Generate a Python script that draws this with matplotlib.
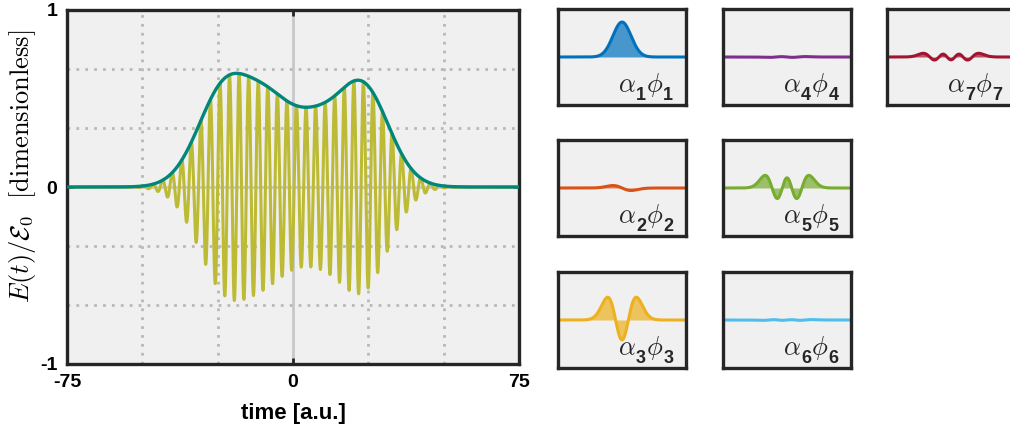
import numpy as np
import matplotlib
matplotlib.use("Agg")
import matplotlib.pyplot as plt
from math import factorial, pi, sqrt

plt.rcParams['font.family'] = ['Liberation Sans', 'DejaVu Sans']
plt.rcParams['mathtext.fontset'] = 'cm'

# Hermite-Gauss coefficients alpha_1..alpha_7
alpha = [0.97, -0.08, 0.78, 0.015, 0.46, 0.015, 0.14]
mode_labels = ['1', '2', '3', '4', '5', '6', '7']
colors = ['#0072BD', '#D95319', '#EDB120', '#7E2F8E', '#77AC30', '#4DBEEE', '#A2142F']

sigma = 10.6      # width of the basis functions [a.u.]
omega = 1.98      # carrier frequency
t_trough = -0.43  # position of the central carrier trough

x_ticks = [-75, 0, 75]
y_ticks = [-1, 0, 1]


def hg(n, x):
    """Normalised Hermite-Gauss function of order n."""
    h = np.polynomial.hermite.hermval(x, [0] * n + [1])
    return h * np.exp(-x ** 2 / 2) / sqrt(2 ** n * factorial(n) * sqrt(pi))


t = np.linspace(-75, 75, 4000)
modes = [a * hg(n, t / sigma) for n, a in enumerate(alpha)]
env = np.sum(modes, axis=0)
field = -env * np.cos(omega * (t - t_trough))

fig = plt.figure(figsize=(10.1, 4.3), dpi=100)
W, H = 1010, 430

ax = fig.add_axes([67 / W, 1 - 364 / H, 452 / W, 354 / H])
ax.set_facecolor('#f0f0f0')
ax.set_xlim(-75, 75)
ax.set_ylim(-1, 1)
ax.set_xticks(x_ticks)
ax.set_yticks(y_ticks)
ax.set_xticks([-50, -25, 25, 50], minor=True)
ax.set_yticks([-2 / 3, -1 / 3, 1 / 3, 2 / 3], minor=True)
ax.grid(which='minor', color='#b9b9b9', linestyle=(0, (1, 2.2)), linewidth=2)
ax.tick_params(which='minor', length=0)
ax.tick_params(which='major', direction='in', length=4, width=2, color='#262626',
               labelsize=14, pad=7, top=True, right=True)
ax.set_xticklabels([str(v) for v in x_ticks], fontweight='bold')
ax.set_yticklabels([str(v) for v in y_ticks], fontweight='bold')
for s in ax.spines.values():
    s.set_linewidth(2.4)
    s.set_color('#262626')
ax.axvline(0, color='#c8c8c8', linewidth=2, zorder=1.5)
ax.axhline(0, color='#c8c8c8', linewidth=2, zorder=1.5)
ax.plot(t, field, color='#bdbb36', linewidth=2.2, zorder=2)
ax.plot(t, env, color='#00877a', linewidth=2.4, zorder=3)

fig.text(293 / W, 1 - 413 / H, 'time [a.u.]', fontsize=16, fontweight='bold',
         ha='center', va='center')
fig.text(23 / W, 1 - 166 / H, r'$E(t)/\mathcal{E}_0\ \ [\mathrm{dimensionless}]$',
         fontsize=19, rotation=90, ha='center', va='center')

# small mode panels
col_x = [558, 723, 887]
row_top = [9, 140, 272]
layout = [(0, 0), (0, 1), (0, 2), (1, 0), (1, 1), (1, 2), (2, 0)]
renderer = fig.canvas.get_renderer()
for n in range(7):
    c, r = layout[n]
    pax = fig.add_axes([col_x[c] / W, 1 - (row_top[r] + 96) / H, 128 / W, 96 / H])
    pax.set_facecolor('#f0f0f0')
    pax.set_xlim(-75, 75)
    pax.set_ylim(-1, 1)
    pax.set_xticks([])
    pax.set_yticks([])
    for s in pax.spines.values():
        s.set_linewidth(2.4)
        s.set_color('#262626')
    pax.fill_between(t, modes[n], 0, color=colors[n], alpha=0.7, linewidth=0)
    pax.plot(t, modes[n], color=colors[n], linewidth=2.2)
    # label alpha_k phi_k with bold sans subscripts
    k = mode_labels[n]
    xoff = 0.0
    for txt, kw, dy in [(r'$\alpha$', dict(fontsize=19), 0),
                        (k, dict(fontsize=13, fontweight='bold'), -6),
                        (r'$\phi$', dict(fontsize=19), 0),
                        (k, dict(fontsize=13, fontweight='bold'), -6)]:
        a = pax.annotate(txt, xy=(0.47, 0.135), xycoords='axes fraction',
                         xytext=(xoff, dy), textcoords='offset points',
                         ha='left', va='baseline', color='#262626', **kw)
        xoff += a.get_window_extent(renderer).width * 72 / fig.dpi

fig.savefig('out.png', dpi=100)
